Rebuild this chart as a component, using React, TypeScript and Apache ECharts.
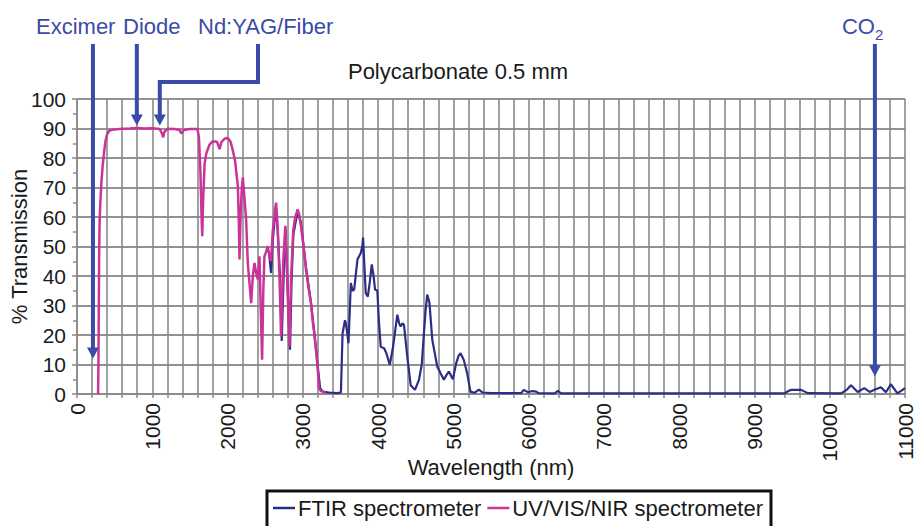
import { useEffect, useRef } from 'react';
import * as echarts from 'echarts';

// UV/VIS/NIR spectrometer (nm, % transmission)
const uvWavelength = [
  280, 285, 290, 295, 300, 310, 325, 340, 360, 380, 400, 430, 500, 600, 700, 800, 900, 1000,
  1100, 1130, 1145, 1160, 1200, 1300, 1360, 1386, 1420, 1500, 1600, 1620, 1640, 1655, 1664,
  1675, 1695, 1717, 1760, 1806, 1860, 1894, 1920, 1960, 2004, 2040, 2071, 2100, 2137, 2150,
  2159, 2175, 2190, 2203, 2220, 2247, 2269, 2290, 2314, 2336, 2358, 2380, 2402, 2424, 2440,
  2459, 2475, 2490, 2510, 2534, 2556, 2578, 2600, 2630, 2645, 2667, 2690, 2711, 2740, 2768,
  2790, 2821, 2845, 2874, 2900, 2931, 2950, 2975, 3010, 3042, 3075, 3108, 3130, 3152, 3175,
  3196, 3215, 3240, 3270, 3300,
];
const uvTransmission = [
  0, 10, 30, 50, 58, 65, 72, 77, 82, 86, 88, 89.3, 89.7, 89.9, 90, 90.2, 90, 90.1,
  89.8, 88.2, 87, 88.8, 89.9, 89.8, 89.5, 88.3, 89.5, 89.8, 89.8, 87, 75, 60, 53.5,
  65, 78, 81.5, 84.5, 85.7, 85.5, 83, 85.5, 86.5, 86.8, 85.5, 82.5, 79, 70.5, 58,
  45.6, 62, 70, 73.4, 68, 59, 44.4, 38, 30.8, 40, 44.4, 41, 38.8, 46.7, 30,
  11.6, 35, 46.7, 48, 50.1, 47, 45, 55, 62, 64.9, 55.8, 40, 19.5, 45, 57,
  42, 16.1, 40, 55.8, 60, 62.6, 61, 57, 50, 42.2, 36, 30.8, 25, 20.6, 15,
  9.3, 2, 1, 0.8, 0.5,
];

// FTIR spectrometer (nm, % transmission)
const ftirWavelength = [
  2550, 2578, 2600, 2630, 2645, 2667, 2700, 2720, 2750, 2768, 2800, 2830, 2850, 2874, 2931,
  2975, 3042, 3108, 3152, 3196, 3230, 3263, 3350, 3450, 3506, 3528, 3560, 3572, 3607, 3638,
  3660, 3682, 3726, 3770, 3790, 3801, 3815, 3836, 3864, 3890, 3916, 3940, 3960, 3990, 4010,
  4035, 4080, 4110, 4155, 4199, 4230, 4256, 4280, 4300, 4325, 4344, 4388, 4433, 4490, 4543,
  4580, 4609, 4630, 4653, 4682, 4720, 4786, 4830, 4874, 4910, 4940, 4993, 5037, 5070, 5095,
  5139, 5183, 5227, 5280, 5338, 5390, 5500, 5900, 5934, 5993, 6050, 6100, 6132, 6350, 6388,
  6430, 9400, 9450, 9488, 9620, 9709, 10150, 10230, 10283, 10371, 10459, 10530, 10600, 10680,
  10746, 10812, 10900, 11000,
];
const ftirTransmission = [
  48, 41, 52, 60, 63, 55, 38, 18, 44, 56, 35, 15, 38, 54, 62,
  58, 43, 31, 21, 10, 2, 0.8, 0.5, 0.3, 0.5, 20.6, 25, 24, 17.2, 37.6,
  35, 35.4, 45.6, 47.8, 50, 53, 45, 34.2, 33, 38, 43.9, 40, 35.4, 35, 25,
  16, 15.5, 13.8, 9.9, 16, 22, 26.9, 24, 22.9, 24, 23.4, 12.7, 3, 1.4, 4.8,
  10, 20.6, 28, 33.7, 31, 18.4, 9.3, 7, 4.8, 6.5, 7.6, 5, 10.4, 13, 13.8,
  11.5, 7, 0.8, 0.4, 1.5, 0.5, 0.3, 0.3, 1.4, 0.6, 1, 0.8, 0.3, 0.2, 1.1,
  0.2, 0.2, 1, 1.4, 1.4, 0.3, 0.2, 1.5, 3, 0.7, 2, 0.7, 1.5, 2.3,
  0.6, 3.3, 0.2, 2,
];

const seriesNames = ['FTIR spectrometer', 'UV/VIS/NIR spectrometer'];
const chartTitle = 'Polycarbonate 0.5 mm';
const xAxisName = 'Wavelength (nm)';
const yAxisName = '% Transmission';

// Laser annotations: label, wavelength (nm), arrow tip (% transmission)
const laserLabels = ['Excimer', 'Diode', 'Nd:YAG/Fiber', 'CO'];
const laserWavelengths = [212, 795, 1100, 10600];
const laserTips = [12, 91, 91, 6];

const FONT = 'Liberation Sans, Arial, Helvetica, sans-serif';
const BLUE = '#3a4aa8';
const PINK = '#cc3399';
const NAVY = '#2c2e85';
const GRID = '#8a8a8a';

export default function App() {
  const ref = useRef<HTMLDivElement>(null);

  useEffect(() => {
    const chart = echarts.init(ref.current!, null, { renderer: 'svg' });
    const ftirData = ftirWavelength.map((w, i) => [w, ftirTransmission[i]]);
    const uvData = uvWavelength.map((w, i) => [w, uvTransmission[i]]);

    chart.setOption({
      animation: false,
      backgroundColor: '#ffffff',
      textStyle: { fontFamily: FONT },
      title: {
        text: chartTitle,
        left: 'center',
        top: 55,
        textStyle: { fontSize: 22, fontWeight: 'normal', color: '#1a1a1a', fontFamily: FONT },
      },
      legend: {
        data: seriesNames,
        left: 267,
        top: 491,
        orient: 'horizontal',
        icon: 'rect',
        borderColor: '#111',
        borderWidth: 3,
        padding: [6, 8, 24, 6],
        itemWidth: 22,
        itemHeight: 2.5,
        itemGap: 6,
        textStyle: { fontSize: 22, color: '#1a1a1a', fontFamily: FONT, padding: [0, 0, 0, -2] },
      },
      grid: { left: 77, right: 11, top: 99, bottom: 132, containLabel: false, outerBoundsMode: 'none' },
      xAxis: {
        type: 'value',
        min: 0,
        max: 11000,
        interval: 1000,
        name: xAxisName,
        nameLocation: 'middle',
        nameGap: 62,
        nameMoveOverlap: false,
        nameTextStyle: { fontSize: 22, color: '#1a1a1a', fontFamily: FONT },
        axisLine: { show: true, lineStyle: { color: GRID, width: 1.5 } },
        axisTick: { show: true, length: 4, lineStyle: { color: GRID, width: 1.5 } },
        minorTick: { show: true, splitNumber: 5, length: 4, lineStyle: { color: GRID, width: 1.5 } },
        axisLabel: {
          rotate: 90,
          fontSize: 21,
          lineHeight: 16,
          color: '#1a1a1a',
          margin: 9,
          fontFamily: FONT,
          formatter: (v: number) => String(v),
        },
        splitLine: { show: true, lineStyle: { color: GRID, width: 1.6 } },
        minorSplitLine: { show: true, lineStyle: { color: GRID, width: 1.6 } },
      },
      yAxis: {
        type: 'value',
        min: 0,
        max: 100,
        interval: 10,
        name: yAxisName,
        nameLocation: 'middle',
        nameRotate: 90,
        nameGap: 47,
        nameMoveOverlap: false,
        nameTextStyle: { fontSize: 22, color: '#1a1a1a', fontFamily: FONT },
        axisLine: { show: true, lineStyle: { color: GRID, width: 1.5 } },
        axisTick: { show: true, length: 5, lineStyle: { color: GRID, width: 1.5 } },
        minorTick: { show: true, splitNumber: 2, length: 4, lineStyle: { color: GRID, width: 1.5 } },
        axisLabel: { fontSize: 21, color: '#1a1a1a', margin: 11, fontFamily: FONT },
        splitLine: { show: true, lineStyle: { color: '#6e6e6e', width: 1.6 } },
      },
      series: [
        {
          name: seriesNames[0],
          type: 'line',
          data: ftirData,
          symbol: 'none',
          lineStyle: { color: NAVY, width: 2.2 },
          itemStyle: { color: NAVY },
          z: 3,
        },
        {
          name: seriesNames[1],
          type: 'line',
          data: uvData,
          symbol: 'none',
          lineStyle: { color: PINK, width: 2.5 },
          itemStyle: { color: PINK },
          z: 4,
        },
      ],
    });

    const px = (w: number, t: number) => chart.convertToPixel({ gridIndex: 0 }, [w, t]) as number[];
    const topY = 44;
    const headH = 11;
    const headW = 6;
    const lineStyle = { stroke: BLUE, lineWidth: 4, fill: null };
    const head = (x: number, y: number) => ({
      type: 'polygon',
      z: 100,
      shape: { points: [[x - headW, y - headH], [x + headW, y - headH], [x, y]] },
      style: { fill: BLUE },
    });
    const label = (text: string, x: number, align: string = 'left') => ({
      type: 'text',
      z: 100,
      x,
      y: 26,
      style: { text, fill: BLUE, font: `22px ${FONT}`, textAlign: align, textVerticalAlign: 'middle' },
    });

    const g: any[] = [];
    const [exX, exY] = px(laserWavelengths[0], laserTips[0]);
    const [diX, diY] = px(laserWavelengths[1], laserTips[1]);
    const [ndX, ndY] = px(laserWavelengths[2], laserTips[2]);
    const [coX, coY] = px(laserWavelengths[3], laserTips[3]);

    g.push(label(laserLabels[0], 36));
    g.push(label(laserLabels[1], 123));
    g.push(label(laserLabels[2], 198));
    g.push(label(laserLabels[3], coX, 'right'));
    g.push({
      type: 'text',
      z: 100,
      x: coX,
      y: 34,
      style: { text: '2', fill: BLUE, font: `15px ${FONT}`, textAlign: 'left', textVerticalAlign: 'middle' },
    });

    g.push({ type: 'line', z: 100, shape: { x1: exX, y1: topY, x2: exX, y2: exY - headH + 1 }, style: lineStyle });
    g.push(head(exX, exY));
    g.push({ type: 'line', z: 100, shape: { x1: diX, y1: topY, x2: diX, y2: diY - headH + 1 }, style: lineStyle });
    g.push(head(diX, diY));
    g.push({
      type: 'polyline',
      z: 100,
      shape: { points: [[258, topY], [258, 82], [ndX, 82], [ndX, ndY - headH + 1]] },
      style: lineStyle,
    });
    g.push(head(ndX, ndY));
    g.push({ type: 'line', z: 100, shape: { x1: coX, y1: topY, x2: coX, y2: coY - headH + 1 }, style: lineStyle });
    g.push(head(coX, coY));

    chart.setOption({ graphic: g });

    return () => chart.dispose();
  }, []);

  return (
    <div
      ref={ref}
      style={{ position: 'fixed', left: 0, top: 0, width: 916, height: 526, background: '#ffffff' }}
    />
  );
}
